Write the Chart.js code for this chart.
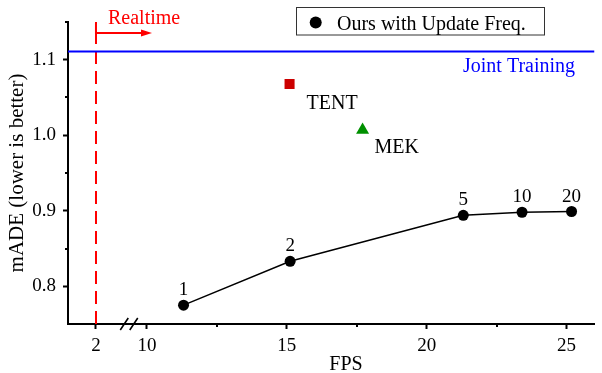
<!DOCTYPE html>
<html>
<head>
<meta charset="utf-8">
<title>mADE vs FPS</title>
<script src="https://cdn.jsdelivr.net/npm/chart.js@4.4.1/dist/chart.umd.min.js"></script>
<style>
  html, body { margin: 0; padding: 0; background: #fff; }
  canvas { display: block; }
</style>
</head>
<body>
<canvas id="c" width="602" height="373"></canvas>
<script>
// ---- data ----
const updateFreqLabels = ['1', '2', '5', '10', '20'];
const oursFps  = [11.31, 15.12, 21.31, 23.41, 25.18];
const oursMade = [0.775, 0.833, 0.894, 0.898, 0.899];

const tentFps  = [15.10];
const tentMade = [1.068];
const mekFps   = [17.71];
const mekMade  = [1.007];

const jointTrainingMade = [1.111];
const realtimeFps = [2];

const xTickValues = [2, 10, 15, 20, 25];
const xMinorTicks = [12.5, 17.5, 22.5];
const yTickValues = [0.8, 0.9, 1.0, 1.1];
const yMinorTicks = [0.85, 0.95, 1.05, 1.15];

// ---- broken x axis: FPS below 10 is squeezed into a short segment ----
const BREAK_START = 10;
const SQUEEZE = 0.2275;
function axisPos(fps) {
  return fps >= BREAK_START ? fps : BREAK_START - (BREAK_START - fps) * SQUEEZE;
}
const X_MIN = 7.18, X_MAX = 26.0;
const Y_MIN = 0.75, Y_MAX = 1.15;
const BREAK_MARK_AT = 9.37; // axis units, between the "2" and "10" ticks

const SERIF = '"Liberation Serif", "Times New Roman", Times, serif';
Chart.defaults.font.family = SERIF;
Chart.defaults.color = '#000';

const ours = oursFps.map((f, i) => ({ x: axisPos(f), y: oursMade[i] }));
const tent = tentFps.map((f, i) => ({ x: axisPos(f), y: tentMade[i] }));
const mek  = mekFps.map((f, i) => ({ x: axisPos(f), y: mekMade[i] }));
const joint = [{ x: X_MIN, y: jointTrainingMade[0] }, { x: X_MAX, y: jointTrainingMade[0] }];
const realtime = [{ x: axisPos(realtimeFps[0]), y: Y_MIN }, { x: axisPos(realtimeFps[0]), y: Y_MAX }];

// Annotations, minor ticks, axis break, legend box and the FPS title
const decorations = {
  id: 'decorations',
  afterDraw(chart) {
    const ctx = chart.ctx;
    const xs = chart.scales.x, ys = chart.scales.y;
    const area = chart.chartArea;
    ctx.save();

    // minor ticks
    ctx.strokeStyle = '#000';
    ctx.lineWidth = 2;
    ctx.beginPath();
    yMinorTicks.forEach(v => {
      const py = Math.round(ys.getPixelForValue(v));
      ctx.moveTo(area.left, py);
      ctx.lineTo(area.left - 3, py);
    });
    xMinorTicks.forEach(v => {
      const px = Math.round(xs.getPixelForValue(axisPos(v)));
      ctx.moveTo(px, area.bottom);
      ctx.lineTo(px, area.bottom + 3);
    });
    ctx.stroke();

    // axis break marks "//"
    const bx = xs.getPixelForValue(BREAK_MARK_AT);
    ctx.lineWidth = 1.6;
    ctx.beginPath();
    [-5, 4.5].forEach(d => {
      ctx.moveTo(bx + d - 4, area.bottom + 6);
      ctx.lineTo(bx + d + 4, area.bottom - 6);
    });
    ctx.stroke();

    // Realtime marker: arrow and label
    const rx = xs.getPixelForValue(axisPos(realtimeFps[0]));
    const ay = area.top + 11;
    ctx.strokeStyle = '#ff0000';
    ctx.fillStyle = '#ff0000';
    ctx.lineWidth = 2;
    ctx.beginPath();
    ctx.moveTo(rx, area.top + 1);
    ctx.lineTo(rx, ay);
    ctx.lineTo(rx + 47, ay);
    ctx.stroke();
    ctx.beginPath();
    ctx.moveTo(rx + 56, ay);
    ctx.lineTo(rx + 45, ay - 3.5);
    ctx.lineTo(rx + 45, ay + 3.5);
    ctx.closePath();
    ctx.fill();
    ctx.font = '20px ' + SERIF;
    ctx.textAlign = 'left';
    ctx.textBaseline = 'alphabetic';
    ctx.fillText('Realtime', rx + 12, area.top + 1.5);

    // Joint Training label
    ctx.fillStyle = '#0000ff';
    ctx.fillText('Joint Training', 463, ys.getPixelForValue(jointTrainingMade[0]) + 21);

    // TENT / MEK labels
    ctx.fillStyle = '#000';
    const tp = { x: xs.getPixelForValue(tent[0].x), y: ys.getPixelForValue(tent[0].y) };
    ctx.fillText('TENT', tp.x + 17, tp.y + 25);
    const mp = { x: xs.getPixelForValue(mek[0].x), y: ys.getPixelForValue(mek[0].y) };
    ctx.fillText('MEK', mp.x + 12, mp.y + 23);

    // update-frequency labels above each point
    ctx.font = '19px ' + SERIF;
    ctx.textAlign = 'center';
    ours.forEach((p, i) => {
      ctx.fillText(updateFreqLabels[i], xs.getPixelForValue(p.x), ys.getPixelForValue(p.y) - 10);
    });

    // x axis title
    ctx.font = '20px ' + SERIF;
    ctx.fillText('FPS', 346, 370);

    // legend
    ctx.strokeStyle = '#333';
    ctx.lineWidth = 1;
    ctx.strokeRect(296.5, 7.5, 248, 27.5);
    ctx.beginPath();
    ctx.arc(315.7, 22.5, 6, 0, Math.PI * 2);
    ctx.fillStyle = '#000';
    ctx.fill();
    ctx.textAlign = 'left';
    ctx.fillText('Ours with Update Freq.', 337, 29.5);

    ctx.restore();
  }
};

new Chart(document.getElementById('c'), {
  type: 'line',
  data: {
    datasets: [
      {
        label: 'Joint Training',
        data: joint,
        borderColor: '#0000ff',
        borderWidth: 2,
        pointRadius: 0
      },
      {
        label: 'Realtime',
        data: realtime,
        borderColor: '#ff0000',
        borderWidth: 2,
        borderDash: [13, 7],
        pointRadius: 0
      },
      {
        label: 'Ours with Update Freq.',
        data: ours,
        borderColor: '#000',
        borderWidth: 1.5,
        pointRadius: 5.5,
        pointBackgroundColor: '#000',
        pointBorderWidth: 0
      },
      {
        label: 'TENT',
        data: tent,
        showLine: false,
        pointStyle: 'rect',
        pointRadius: 7.1,
        pointBackgroundColor: '#cc0000',
        pointBorderWidth: 0
      },
      {
        label: 'MEK',
        data: mek,
        showLine: false,
        pointStyle: 'triangle',
        pointRadius: 7.5,
        pointBackgroundColor: '#009000',
        pointBorderWidth: 0
      }
    ]
  },
  options: {
    responsive: false,
    animation: false,
    devicePixelRatio: 1,
    layout: { padding: { top: 22, right: 5, left: 0, bottom: 0 } },
    plugins: { legend: { display: false }, tooltip: { enabled: false } },
    scales: {
      x: {
        type: 'linear',
        min: X_MIN,
        max: X_MAX,
        afterFit(scale) { scale.height = 49; },
        afterBuildTicks(scale) {
          scale.ticks = xTickValues.map(v => ({ value: axisPos(v) }));
        },
        ticks: {
          font: { size: 19 },
          color: '#000',
          padding: 6,
          maxRotation: 0,
          autoSkip: false,
          callback(value) {
            const i = xTickValues.findIndex(v => Math.abs(axisPos(v) - value) < 1e-6);
            return i >= 0 ? String(xTickValues[i]) : '';
          }
        },
        grid: {
          drawOnChartArea: false,
          drawTicks: true,
          tickLength: 5,
          tickColor: '#000',
          tickWidth: 2
        },
        border: { display: true, color: '#000', width: 2 }
      },
      y: {
        type: 'linear',
        min: Y_MIN,
        max: Y_MAX,
        afterFit(scale) { scale.width = 68; },
        afterBuildTicks(scale) {
          scale.ticks = yTickValues.map(v => ({ value: v }));
        },
        ticks: {
          font: { size: 19 },
          color: '#000',
          padding: 7,
          callback(value) { return Number(value).toFixed(1); }
        },
        grid: {
          drawOnChartArea: false,
          drawTicks: true,
          tickLength: 5,
          tickColor: '#000',
          tickWidth: 2
        },
        border: { display: true, color: '#000', width: 2 },
        title: {
          display: true,
          text: 'mADE (lower is better)',
          font: { size: 21 },
          color: '#000',
          padding: { top: 5, bottom: 0 }
        }
      }
    }
  },
  plugins: [decorations]
});
</script>
</body>
</html>
